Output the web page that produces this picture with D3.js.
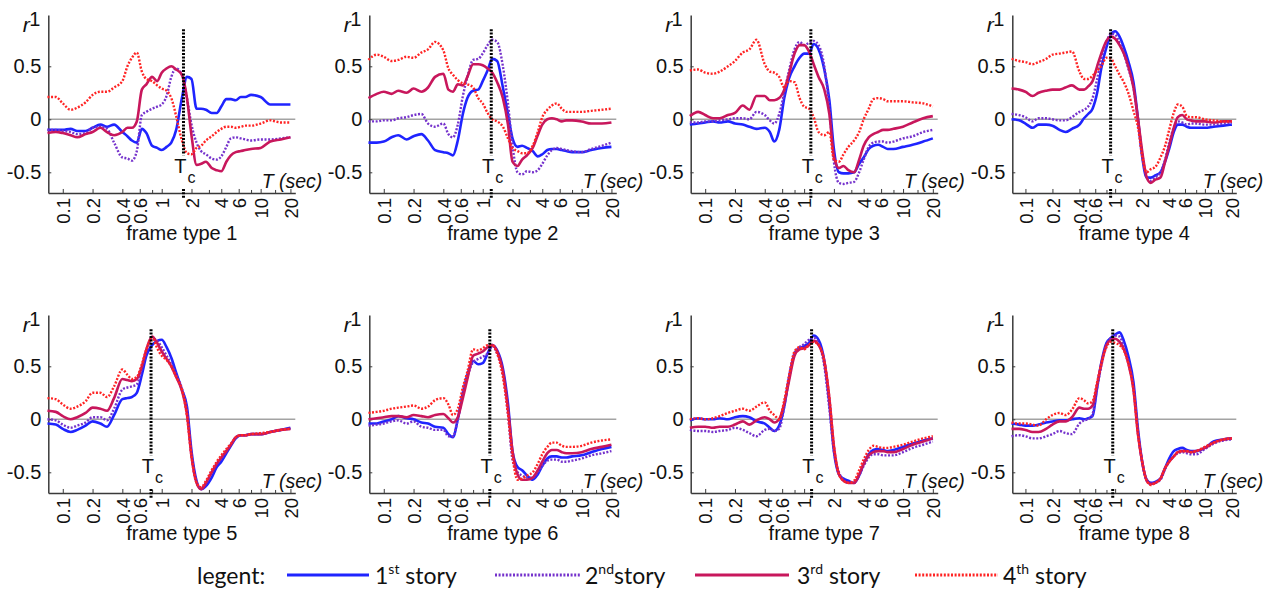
<!DOCTYPE html>
<html><head><meta charset="utf-8">
<script src="https://cdn.jsdelivr.net/npm/d3@7"></script>
<style>body{margin:0;background:#fff}svg{display:block}</style>
</head><body><svg id="c" width="1277" height="589"></svg>
<script>
// ---------- data ----------
const T = [0.07,0.085,0.1,0.12,0.14,0.17,0.2,0.24,0.28,0.33,0.4,0.45,0.5,0.56,0.63,0.7,0.8,0.9,1.0,1.12,1.25,1.4,1.6,1.8,2.0,2.25,2.5,2.8,3.2,3.6,4.0,4.5,5,5.6,6.3,7,8,10,12.5,16,20];
const frameTypes = ["frame type 1","frame type 2","frame type 3","frame type 4","frame type 5","frame type 6","frame type 7","frame type 8"];
const tcValues = [1.66,1.22,1.17,0.89,0.78,1.18,1.19,0.94];
const xTickValues = [0.1,0.2,0.4,0.6,1,2,4,6,10,20];
const xTickLabels = ["0.1","0.2","0.4","0.6","1","2","4","6","10","20"];
const xMinorTicks = [0.8,3,8,14];
const yTickValues = [-0.5,0,0.5];
const yTickLabels = ["-0.5","0","0.5"];
const storyNums = ["1","2","3","4"];
const storySups = ["st","nd","rd","th"];
const storyWords = [" story","story"," story"," story"];

const ft1_story1 = [-0.10,-0.10,-0.10,-0.09,-0.11,-0.11,-0.08,-0.05,-0.07,-0.05,-0.12,-0.16,-0.20,-0.22,-0.09,-0.13,-0.25,-0.27,-0.29,-0.26,-0.22,-0.10,0.20,0.40,0.38,0.10,0.10,0.09,0.06,0.06,0.12,0.19,0.19,0.18,0.21,0.21,0.23,0.21,0.14,0.14,0.14];
const ft1_story2 = [-0.10,-0.10,-0.11,-0.12,-0.14,-0.13,-0.08,-0.07,-0.09,-0.22,-0.36,-0.37,-0.39,-0.30,0.04,0.07,0.10,0.12,0.14,0.22,0.40,0.48,0.42,0.20,-0.05,-0.22,-0.30,-0.33,-0.37,-0.38,-0.35,-0.26,-0.18,-0.17,-0.18,-0.19,-0.20,-0.19,-0.19,-0.18,-0.17];
const ft1_story3 = [-0.13,-0.12,-0.13,-0.15,-0.17,-0.14,-0.12,-0.08,-0.12,-0.15,-0.12,-0.08,-0.08,-0.02,0.28,0.33,0.40,0.36,0.44,0.48,0.50,0.47,0.42,0.20,-0.15,-0.43,-0.42,-0.40,-0.46,-0.48,-0.49,-0.40,-0.34,-0.31,-0.30,-0.29,-0.28,-0.27,-0.21,-0.19,-0.17];
const ft1_story4 = [0.21,0.21,0.15,0.09,0.11,0.16,0.23,0.26,0.26,0.30,0.36,0.50,0.58,0.63,0.45,0.38,0.36,0.32,0.29,0.27,0.20,0.03,-0.20,-0.32,-0.33,-0.27,-0.25,-0.20,-0.16,-0.12,-0.09,-0.07,-0.07,-0.08,-0.07,-0.06,-0.06,-0.04,-0.01,-0.03,-0.03];

const ft2_story1 = [-0.22,-0.22,-0.21,-0.17,-0.15,-0.19,-0.16,-0.14,-0.20,-0.29,-0.31,-0.32,-0.34,-0.20,0.05,0.20,0.27,0.28,0.36,0.46,0.57,0.55,0.30,0.05,-0.18,-0.26,-0.25,-0.27,-0.30,-0.35,-0.33,-0.29,-0.28,-0.28,-0.29,-0.30,-0.31,-0.31,-0.29,-0.27,-0.26];
const ft2_story2 = [-0.02,-0.02,-0.01,-0.01,0.01,0.02,0.04,0.05,-0.04,-0.07,-0.04,-0.14,-0.17,-0.05,0.22,0.40,0.56,0.57,0.62,0.70,0.75,0.73,0.50,0.15,-0.25,-0.50,-0.52,-0.49,-0.50,-0.48,-0.42,-0.34,-0.29,-0.27,-0.28,-0.29,-0.30,-0.31,-0.28,-0.25,-0.22];
const ft2_story3 = [0.20,0.24,0.26,0.24,0.27,0.25,0.29,0.26,0.30,0.40,0.43,0.28,0.26,0.33,0.32,0.40,0.52,0.52,0.51,0.48,0.44,0.35,0.20,-0.05,-0.40,-0.44,-0.38,-0.34,-0.27,-0.15,-0.05,0.00,0.01,0.00,-0.02,-0.01,-0.01,-0.02,-0.04,-0.04,-0.03];
const ft2_story4 = [0.56,0.61,0.59,0.55,0.56,0.59,0.58,0.63,0.66,0.73,0.65,0.48,0.42,0.37,0.34,0.33,0.30,0.20,0.15,0.06,0.00,-0.02,-0.07,-0.18,-0.27,-0.30,-0.32,-0.32,-0.25,-0.12,0.02,0.09,0.13,0.15,0.10,0.07,0.07,0.07,0.08,0.09,0.10];

const ft3_story1 = [-0.05,-0.04,-0.03,-0.02,-0.03,-0.02,-0.04,-0.05,-0.07,-0.09,-0.08,-0.12,-0.21,-0.10,0.20,0.38,0.50,0.58,0.62,0.62,0.71,0.66,0.47,0.18,-0.28,-0.50,-0.51,-0.51,-0.50,-0.42,-0.36,-0.28,-0.25,-0.24,-0.26,-0.28,-0.28,-0.26,-0.24,-0.21,-0.18];
const ft3_story2 = [-0.03,-0.03,-0.02,-0.02,-0.01,0.00,0.01,0.01,0.00,0.07,0.04,-0.01,-0.04,0.05,0.25,0.45,0.66,0.73,0.70,0.72,0.74,0.70,0.50,0.10,-0.40,-0.60,-0.61,-0.60,-0.59,-0.50,-0.38,-0.26,-0.22,-0.21,-0.21,-0.22,-0.21,-0.18,-0.16,-0.12,-0.10];
const ft3_story3 = [0.03,0.07,0.04,0.01,0.01,0.04,0.06,0.13,0.09,0.22,0.22,0.18,0.18,0.20,0.28,0.42,0.62,0.70,0.70,0.64,0.52,0.40,0.28,0.05,-0.35,-0.46,-0.44,-0.48,-0.50,-0.38,-0.25,-0.17,-0.14,-0.12,-0.10,-0.10,-0.09,-0.07,-0.03,0.01,0.03];
const ft3_story4 = [0.46,0.47,0.44,0.43,0.45,0.50,0.55,0.63,0.66,0.75,0.52,0.45,0.44,0.40,0.30,0.36,0.35,0.20,0.12,0.10,0.02,-0.12,-0.15,-0.12,-0.38,-0.40,-0.33,-0.26,-0.20,-0.12,0.00,0.10,0.19,0.20,0.19,0.17,0.17,0.17,0.16,0.15,0.12];

const ft4_story1 = [0.00,-0.01,-0.04,-0.08,-0.05,-0.05,-0.06,-0.10,-0.12,-0.09,-0.05,0.01,0.05,0.10,0.25,0.48,0.68,0.80,0.83,0.78,0.68,0.55,0.35,0.00,-0.35,-0.55,-0.55,-0.53,-0.50,-0.40,-0.28,-0.12,-0.05,-0.05,-0.07,-0.08,-0.08,-0.08,-0.07,-0.06,-0.05];
const ft4_story2 = [0.05,0.04,0.02,-0.02,0.01,0.01,0.00,-0.01,-0.01,0.02,0.07,0.09,0.12,0.20,0.38,0.57,0.73,0.81,0.80,0.72,0.62,0.48,0.30,-0.02,-0.32,-0.55,-0.58,-0.55,-0.50,-0.38,-0.22,-0.08,-0.02,-0.03,-0.05,-0.04,-0.04,-0.05,-0.05,-0.04,-0.03];
const ft4_story3 = [0.29,0.28,0.26,0.22,0.25,0.27,0.28,0.28,0.30,0.32,0.28,0.28,0.31,0.36,0.50,0.62,0.74,0.78,0.76,0.70,0.62,0.50,0.30,0.00,-0.30,-0.55,-0.60,-0.57,-0.55,-0.40,-0.25,-0.08,0.02,0.04,0.00,-0.01,-0.02,-0.02,-0.03,-0.02,-0.02];
const ft4_story4 = [0.57,0.55,0.54,0.52,0.54,0.57,0.61,0.62,0.63,0.64,0.45,0.38,0.38,0.41,0.46,0.50,0.58,0.57,0.50,0.42,0.35,0.25,0.08,-0.08,-0.35,-0.50,-0.47,-0.45,-0.36,-0.25,-0.10,0.06,0.14,0.12,0.03,0.02,0.02,0.00,-0.01,-0.02,-0.02];

const ft5_story1 = [-0.04,-0.05,-0.09,-0.12,-0.10,-0.06,-0.02,-0.04,-0.07,0.04,0.19,0.20,0.21,0.25,0.42,0.60,0.70,0.74,0.75,0.68,0.58,0.44,0.28,0.12,-0.30,-0.58,-0.66,-0.63,-0.55,-0.45,-0.40,-0.32,-0.25,-0.18,-0.15,-0.15,-0.14,-0.14,-0.12,-0.10,-0.08];
const ft5_story2 = [0.00,-0.01,-0.05,-0.08,-0.06,-0.03,0.02,0.02,-0.01,0.10,0.28,0.30,0.31,0.33,0.48,0.64,0.76,0.74,0.68,0.60,0.52,0.42,0.29,0.08,-0.33,-0.60,-0.65,-0.60,-0.50,-0.42,-0.37,-0.30,-0.24,-0.17,-0.15,-0.15,-0.14,-0.14,-0.12,-0.10,-0.09];
const ft5_story3 = [0.08,0.07,0.03,0.00,0.02,0.06,0.11,0.10,0.08,0.20,0.38,0.37,0.36,0.38,0.50,0.66,0.78,0.72,0.64,0.57,0.50,0.40,0.27,0.05,-0.35,-0.60,-0.66,-0.60,-0.50,-0.42,-0.36,-0.30,-0.24,-0.17,-0.15,-0.15,-0.14,-0.14,-0.12,-0.10,-0.09];
const ft5_story4 = [0.20,0.19,0.14,0.10,0.12,0.17,0.25,0.25,0.21,0.31,0.47,0.42,0.38,0.40,0.52,0.66,0.77,0.67,0.60,0.56,0.50,0.40,0.28,0.03,-0.35,-0.60,-0.64,-0.58,-0.48,-0.40,-0.34,-0.28,-0.23,-0.17,-0.15,-0.15,-0.14,-0.13,-0.12,-0.10,-0.09];

const ft6_story1 = [-0.04,-0.04,-0.02,0.00,0.03,0.01,0.00,-0.03,-0.04,-0.07,-0.08,-0.14,-0.17,0.00,0.25,0.42,0.55,0.52,0.53,0.62,0.70,0.65,0.48,0.15,-0.30,-0.45,-0.48,-0.53,-0.57,-0.52,-0.44,-0.37,-0.35,-0.35,-0.36,-0.36,-0.35,-0.34,-0.31,-0.28,-0.26];
const ft6_story2 = [-0.06,-0.05,-0.04,-0.02,-0.01,-0.04,-0.02,-0.07,-0.08,-0.10,-0.10,-0.16,-0.16,0.00,0.25,0.40,0.54,0.57,0.59,0.62,0.69,0.62,0.42,0.05,-0.38,-0.50,-0.53,-0.55,-0.55,-0.50,-0.44,-0.39,-0.38,-0.38,-0.40,-0.40,-0.39,-0.37,-0.34,-0.32,-0.30];
const ft6_story3 = [0.00,0.01,0.02,0.03,0.03,0.02,0.04,0.03,0.02,0.04,0.05,0.01,-0.03,0.02,0.20,0.38,0.60,0.62,0.64,0.68,0.70,0.64,0.45,0.10,-0.30,-0.52,-0.57,-0.57,-0.55,-0.48,-0.40,-0.32,-0.29,-0.29,-0.31,-0.32,-0.32,-0.31,-0.28,-0.26,-0.24];
const ft6_story4 = [0.06,0.07,0.08,0.10,0.11,0.12,0.13,0.10,0.12,0.18,0.20,0.14,0.04,0.10,0.30,0.45,0.66,0.65,0.67,0.70,0.70,0.62,0.40,0.05,-0.35,-0.57,-0.56,-0.53,-0.50,-0.42,-0.33,-0.26,-0.22,-0.22,-0.25,-0.26,-0.26,-0.25,-0.22,-0.20,-0.19];

const ft7_story1 = [-0.01,0.01,0.00,0.00,0.01,0.00,0.02,0.03,0.02,-0.02,-0.04,-0.08,-0.11,-0.06,0.12,0.38,0.62,0.67,0.69,0.72,0.79,0.75,0.55,0.15,-0.30,-0.52,-0.56,-0.58,-0.60,-0.53,-0.42,-0.33,-0.29,-0.28,-0.29,-0.30,-0.29,-0.26,-0.23,-0.20,-0.18];
const ft7_story2 = [-0.10,-0.11,-0.11,-0.12,-0.11,-0.10,-0.08,-0.10,-0.13,-0.16,-0.10,-0.09,-0.11,-0.09,0.12,0.38,0.62,0.68,0.71,0.75,0.77,0.72,0.50,0.10,-0.30,-0.50,-0.57,-0.60,-0.60,-0.53,-0.44,-0.36,-0.33,-0.33,-0.34,-0.34,-0.34,-0.31,-0.27,-0.24,-0.21];
const ft7_story3 = [-0.08,-0.07,-0.07,-0.08,-0.07,-0.07,-0.05,-0.02,-0.05,-0.01,0.02,0.00,-0.03,0.00,0.15,0.35,0.60,0.66,0.67,0.70,0.74,0.70,0.55,0.20,-0.25,-0.52,-0.58,-0.60,-0.60,-0.52,-0.42,-0.34,-0.31,-0.30,-0.30,-0.31,-0.31,-0.28,-0.24,-0.21,-0.18];
const ft7_story4 = [0.00,0.01,0.00,0.01,0.03,0.06,0.08,0.10,0.08,0.12,0.16,0.08,0.04,0.00,0.18,0.40,0.64,0.68,0.66,0.70,0.73,0.70,0.55,0.20,-0.25,-0.52,-0.58,-0.60,-0.58,-0.48,-0.38,-0.29,-0.25,-0.26,-0.27,-0.27,-0.26,-0.24,-0.21,-0.18,-0.16];

const ft8_story1 = [-0.04,-0.05,-0.06,-0.06,-0.05,-0.03,-0.02,-0.01,-0.01,0.00,0.01,0.00,0.01,0.03,0.30,0.53,0.72,0.77,0.80,0.82,0.74,0.60,0.35,-0.10,-0.40,-0.57,-0.60,-0.59,-0.56,-0.46,-0.37,-0.30,-0.28,-0.27,-0.29,-0.30,-0.30,-0.27,-0.21,-0.19,-0.18];
const ft8_story2 = [-0.16,-0.15,-0.16,-0.18,-0.18,-0.16,-0.14,-0.11,-0.13,-0.14,-0.04,-0.01,0.00,0.05,0.30,0.50,0.70,0.77,0.79,0.78,0.68,0.55,0.30,-0.12,-0.40,-0.58,-0.61,-0.60,-0.57,-0.47,-0.40,-0.35,-0.32,-0.31,-0.32,-0.33,-0.33,-0.28,-0.23,-0.20,-0.19];
const ft8_story3 = [-0.09,-0.09,-0.10,-0.12,-0.12,-0.09,-0.05,-0.02,-0.02,0.02,0.11,0.10,0.10,0.13,0.33,0.52,0.70,0.75,0.76,0.73,0.66,0.53,0.28,-0.15,-0.40,-0.58,-0.61,-0.60,-0.56,-0.46,-0.40,-0.35,-0.31,-0.30,-0.30,-0.31,-0.30,-0.27,-0.22,-0.19,-0.18];
const ft8_story4 = [-0.03,-0.04,-0.04,-0.05,-0.06,0.00,0.04,0.06,0.04,0.09,0.20,0.18,0.15,0.17,0.35,0.52,0.68,0.73,0.72,0.70,0.65,0.53,0.28,-0.15,-0.40,-0.58,-0.62,-0.60,-0.56,-0.46,-0.40,-0.35,-0.31,-0.30,-0.30,-0.31,-0.30,-0.26,-0.22,-0.19,-0.18];

const panelSeries = [
  [ft1_story1, ft1_story2, ft1_story3, ft1_story4],
  [ft2_story1, ft2_story2, ft2_story3, ft2_story4],
  [ft3_story1, ft3_story2, ft3_story3, ft3_story4],
  [ft4_story1, ft4_story2, ft4_story3, ft4_story4],
  [ft5_story1, ft5_story2, ft5_story3, ft5_story4],
  [ft6_story1, ft6_story2, ft6_story3, ft6_story4],
  [ft7_story1, ft7_story2, ft7_story3, ft7_story4],
  [ft8_story1, ft8_story2, ft8_story3, ft8_story4]
];

// ---------- styling / layout ----------
const colors = ["#1f24ff", "#7532cc", "#c8175c", "#ff2424"];
const dashed = [false, true, false, true];
const colLeft = [48.3, 369.3, 690.7, 1012.3];
const colWidth = [247, 247, 247, 224];
const rowZero = [119.3, 419.3];
const unit = 106;
const yMin = -0.695, yMax = 0.985;
const FONT = "'Liberation Sans', Arial, sans-serif";

const svg = d3.select("#c");

panelSeries.forEach((series, i) => {
  const col = i % 4, row = Math.floor(i / 4);
  const W = colWidth[col];
  const z = rowZero[row];
  const g = svg.append("g").attr("transform", `translate(${colLeft[col]},0)`);
  const x = d3.scaleLog().domain([0.0714, 22.4]).range([0, W]);
  const y = d3.scaleLinear().domain([yMin, yMax]).range([z - yMin * unit, z - yMax * unit]);
  const axisY = y(yMin);

  // zero line
  g.append("line").attr("x1", 0).attr("x2", W).attr("y1", y(0)).attr("y2", y(0))
    .attr("stroke", "#a3a3a3").attr("stroke-width", 1.4);

  // x axis
  const xa = g.append("g").attr("transform", `translate(0,${axisY})`)
    .call(d3.axisBottom(x).tickValues(xTickValues).tickSizeInner(-4).tickSizeOuter(0)
      .tickFormat((d, k) => xTickLabels[k]));
  xa.select(".domain").attr("stroke", "#3a3a3a").attr("stroke-width", 1.5);
  xa.selectAll(".tick line").attr("stroke", "#3a3a3a").attr("stroke-width", 1);
  xa.selectAll(".tick text")
    .attr("transform", "rotate(-90)").attr("x", -5).attr("y", 0).attr("dy", "0.36em")
    .attr("text-anchor", "end").attr("font-family", FONT).attr("font-size", 18.5).attr("fill", "#111");
  const xm = g.append("g").attr("transform", `translate(0,${axisY})`)
    .call(d3.axisBottom(x).tickValues(xMinorTicks).tickSizeInner(-3).tickSizeOuter(0).tickFormat(""));
  xm.select(".domain").remove();
  xm.selectAll(".tick line").attr("stroke", "#3a3a3a").attr("stroke-width", 1);

  // y axis
  const ya = g.append("g")
    .call(d3.axisLeft(y).tickValues(yTickValues).tickSizeInner(-3).tickSizeOuter(0).tickPadding(7)
      .tickFormat((d, k) => yTickLabels[k]));
  ya.select(".domain").attr("stroke", "#3a3a3a").attr("stroke-width", 1.5);
  ya.selectAll(".tick line").attr("stroke", "#3a3a3a");
  ya.selectAll(".tick text").attr("font-family", FONT).attr("font-size", 20).attr("fill", "#111");

  g.append("text").attr("x", -8).attr("y", z - 93.5).attr("text-anchor", "end")
    .attr("font-family", FONT).attr("font-size", 20).attr("fill", "#111").text("1");
  g.append("text").attr("x", -25.5).attr("y", z - 87.5)
    .attr("font-family", FONT).attr("font-size", 21).attr("font-style", "italic").attr("fill", "#111").text("r");

  // series
  const line = d3.line().x((d, k) => x(T[k])).y(d => y(d)).curve(d3.curveMonotoneX);
  series.forEach((vals, s) => {
    g.append("path").datum(vals).attr("d", line).attr("fill", "none")
      .attr("stroke", colors[s]).attr("stroke-width", dashed[s] ? 2.4 : 2.6)
      .attr("stroke-dasharray", dashed[s] ? "2,1.6" : null)
      .attr("stroke-linejoin", "round");
  });

  // Tc marker
  const tx = x(tcValues[i]);
  g.append("line").attr("x1", tx).attr("x2", tx).attr("y1", y(0.85)).attr("y2", y(-0.34))
    .attr("stroke", "#000").attr("stroke-width", 3).attr("stroke-dasharray", "2,1.4");
  g.append("line").attr("x1", tx).attr("x2", tx).attr("y1", axisY - 4).attr("y2", axisY + 5)
    .attr("stroke", "#000").attr("stroke-width", 3).attr("stroke-dasharray", "2,1.4");
  g.append("text").attr("x", tx + 3).attr("y", axisY - 20).attr("text-anchor", "end")
    .attr("font-family", FONT).attr("font-size", 20).attr("fill", "#111").text("T");
  g.append("text").attr("x", tx + 4).attr("y", axisY - 10)
    .attr("font-family", FONT).attr("font-size", 16).attr("fill", "#111").text("c");

  // T (sec)
  g.append("text").attr("x", W + 27).attr("y", axisY - 5).attr("text-anchor", "end")
    .attr("font-family", FONT).attr("font-size", 19.5).attr("font-style", "italic").attr("fill", "#111")
    .text("T (sec)");

  // title
  g.append("text").attr("x", W / 2 + 10).attr("y", axisY + 47.5).attr("text-anchor", "middle")
    .attr("font-family", FONT).attr("font-size", 20).attr("fill", "#111").text(frameTypes[i]);
});

// ---------- legend ----------
const LF = "Lato, 'Open Sans', sans-serif";
const leg = svg.append("g");
leg.append("text").attr("x", 197).attr("y", 584).attr("font-family", LF).attr("font-size", 23)
  .attr("fill", "#111").text("legent:");
const legLines = [[287, 369, 375], [495, 580, 585], [695, 789, 797], [915, 998, 1003]];
storyNums.forEach((n, s) => {
  const [a, b, tx] = legLines[s];
  leg.append("line").attr("x1", a).attr("x2", b).attr("y1", 575).attr("y2", 575)
    .attr("stroke", colors[s]).attr("stroke-width", 3)
    .attr("stroke-dasharray", dashed[s] ? "2,1.6" : null);
  const t = leg.append("text").attr("x", tx).attr("y", 584).attr("font-family", LF)
    .attr("font-size", 23).attr("fill", "#111");
  t.append("tspan").text(n);
  t.append("tspan").attr("font-size", 14).attr("dy", -10).text(storySups[s]);
  t.append("tspan").attr("dy", 10).text(storyWords[s]);
});
</script></body></html>
